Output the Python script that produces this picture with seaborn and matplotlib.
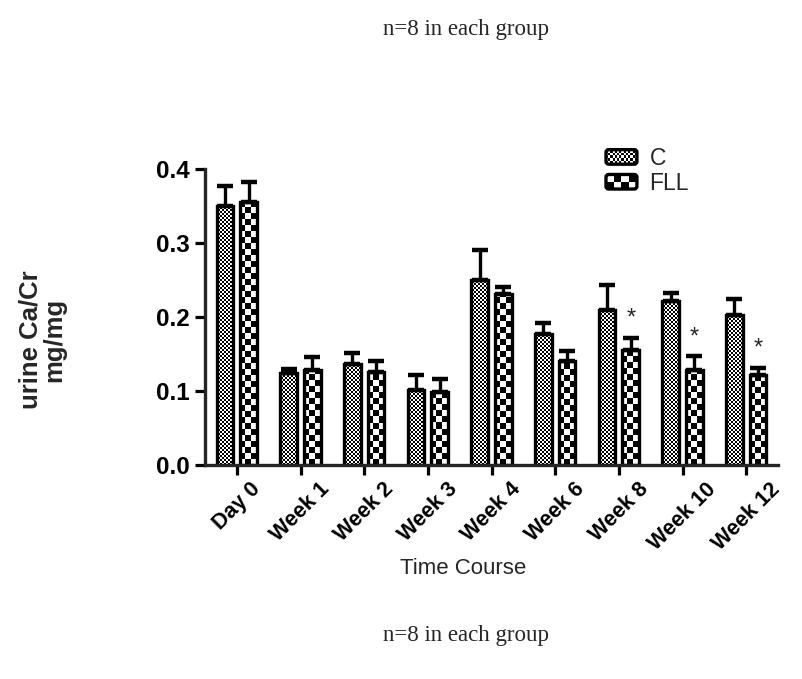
import numpy as np
import pandas as pd
import matplotlib
matplotlib.use("Agg")
import matplotlib.pyplot as plt
from matplotlib.patches import Rectangle, FancyBboxPatch
from matplotlib.legend_handler import HandlerBase
import matplotlib.transforms as mtransforms
import seaborn as sns

# ---- data: urine Ca/Cr (mg/mg), mean and SEM per time point ----
time_points = ["Day 0", "Week 1", "Week 2", "Week 3", "Week 4",
               "Week 6", "Week 8", "Week 10", "Week 12"]
groups = ["C", "FLL"]
c_mean = [0.350, 0.124, 0.136, 0.101, 0.250, 0.177, 0.209, 0.221, 0.203]
c_sem = [0.027, 0.006, 0.015, 0.021, 0.040, 0.015, 0.034, 0.011, 0.021]
fll_mean = [0.355, 0.129, 0.126, 0.099, 0.231, 0.140, 0.156, 0.129, 0.121]
fll_sem = [0.027, 0.017, 0.014, 0.017, 0.010, 0.014, 0.016, 0.018, 0.010]
significant = ["Week 8", "Week 10", "Week 12"]
y_ticks = [0.0, 0.1, 0.2, 0.3, 0.4]

df = pd.DataFrame({
    "time": time_points * 2,
    "group": ["C"] * len(time_points) + ["FLL"] * len(time_points),
    "value": c_mean + fll_mean,
})
sems = {"C": c_sem, "FLL": fll_sem}
means = {"C": c_mean, "FLL": fll_mean}

sns.set_style("ticks")
plt.rcParams["font.family"] = ["Liberation Sans", "DejaVu Sans"]

W, H = 802, 679
fig = plt.figure(figsize=(W / 100, H / 100), dpi=100)
ax = fig.add_axes([205 / W, 1 - 465 / H, (778 - 205) / W, (465 - 169) / H])

sns.barplot(data=df, x="time", y="value", hue="group",
            order=time_points, hue_order=groups,
            palette=["white", "white"], edgecolor="black", linewidth=2.4,
            width=0.75, gap=0.3, errorbar=None, legend=False, ax=ax)

ax.set_xlim(-0.5, len(time_points) - 0.5)
ax.set_ylim(0, 0.4)

# checkerboard fills (fine for C, coarse for FLL), clipped to each bar
cell_px = {"C": 2, "FLL": 6}


def checker(nx, ny, cell):
    xs = np.arange(nx) + 0.5 - nx / 2.0
    ys = np.arange(ny) + 0.5
    k = np.floor(xs / cell + 0.5).astype(int)
    r = np.floor(ys / cell).astype(int)
    return ((k[None, :] + r[:, None]) % 2).astype(float)


fig.canvas.draw()
for grp, cont in zip(groups, ax.containers):
    for bar in cont:
        x0, w = bar.get_x(), bar.get_width()
        h = bar.get_height()
        (px0, py0), (px1, py1) = ax.transData.transform([(x0, 0), (x0 + w, h)])
        nx = max(int(round(px1 - px0)), 1)
        ny = max(int(round(py1 - py0)), 1)
        img = ax.imshow(checker(nx, ny, cell_px[grp]), cmap="gray", vmin=0, vmax=1,
                        origin="lower", extent=(x0, x0 + w, 0, h),
                        interpolation="nearest", aspect="auto", zorder=0.5)
        img.set_clip_path(bar)
        bar.set_facecolor("none")
        bar.set_zorder(1)

# upper-only SEM error bars
for grp, cont in zip(groups, ax.containers):
    xs = [b.get_x() + b.get_width() / 2 for b in cont]
    ax.errorbar(xs, means[grp], yerr=[np.zeros(len(xs)), sems[grp]],
                fmt="none", ecolor="black", elinewidth=2.4,
                capsize=5.5, capthick=3.2, zorder=2)

# significance marks above FLL bars
fll_cont = ax.containers[1]
for i, t in enumerate(time_points):
    if t in significant:
        b = fll_cont[i]
        ax.text(b.get_x() + b.get_width() / 2, fll_mean[i] + fll_sem[i] + 0.011,
                "*", ha="center", va="bottom", fontsize=17,
                fontfamily="Liberation Sans")

ax.set_xlim(-0.5, len(time_points) - 0.5)
ax.set_ylim(0, 0.4)
ax.set_yticks(y_ticks)
ax.set_yticklabels([f"{v:.1f}" for v in y_ticks], fontsize=17.5, fontweight="bold")
ax.set_xticks(range(len(time_points)))
offset = mtransforms.ScaledTranslation(12 / 100, 0, fig.dpi_scale_trans)
ax.set_xticklabels(time_points, fontsize=15.5, fontweight="bold",
                   rotation=45, ha="center", va="top")
for lab in ax.get_xticklabels():
    lab.set_transform(lab.get_transform() + offset)
ax.tick_params(axis="both", direction="out", length=7, width=2.3, pad=4, colors="black")
ax.tick_params(axis="x", pad=3)
for side in ["top", "right"]:
    ax.spines[side].set_visible(False)
for side in ["left", "bottom"]:
    ax.spines[side].set_linewidth(2.4)
ax.set_xlabel("")
ax.set_ylabel("")


class CheckerHandler(HandlerBase):
    def __init__(self, cols, rows):
        super().__init__()
        self.cols, self.rows = cols, rows

    def create_artists(self, legend, orig_handle, xdescent, ydescent,
                       width, height, fontsize, trans):
        arts = []
        x0, y0 = -xdescent, -ydescent
        cw, ch = width / self.cols, height / self.rows
        for i in range(self.cols):
            for j in range(self.rows):
                if (i + j) % 2 == 0:
                    arts.append(Rectangle((x0 + i * cw, y0 + j * ch), cw, ch,
                                          facecolor="black", edgecolor="none",
                                          transform=trans))
        frame = FancyBboxPatch((x0, y0), width, height,
                               boxstyle="round,pad=0,rounding_size=2",
                               facecolor="none", edgecolor="black",
                               linewidth=2.4, transform=trans)
        arts.append(frame)
        return arts


h_c = Rectangle((0, 0), 1, 1, label="C")
h_f = Rectangle((0, 0), 1, 1, label="FLL")
fig.legend(handles=[h_c, h_f], labels=groups,
           handler_map={h_c: CheckerHandler(14, 5), h_f: CheckerHandler(4, 2)},
           loc="upper left", bbox_to_anchor=(606 / W, 1 - 147 / H),
           frameon=False, fontsize=16.5, handlelength=1.35, handleheight=0.6,
           handletextpad=0.55, labelspacing=0.08, borderaxespad=0, borderpad=0)

# axis titles and captions
fig.text(42 / W, 1 - 340 / H, "urine Ca/Cr\nmg/mg", rotation=90,
         ha="center", va="center", fontsize=18.5, fontweight="bold",
         linespacing=1.0)
fig.text(463 / W, 1 - 568 / H, "Time Course", ha="center", va="center",
         fontsize=16)
fig.text(466 / W, 1 - 30 / H, "n=8 in each group", ha="center", va="center",
         fontsize=16.5, fontfamily=["Liberation Serif", "DejaVu Serif"])
fig.text(466 / W, 1 - 635 / H, "n=8 in each group", ha="center", va="center",
         fontsize=16.5, fontfamily=["Liberation Serif", "DejaVu Serif"])

fig.savefig("out.png", dpi=100)
